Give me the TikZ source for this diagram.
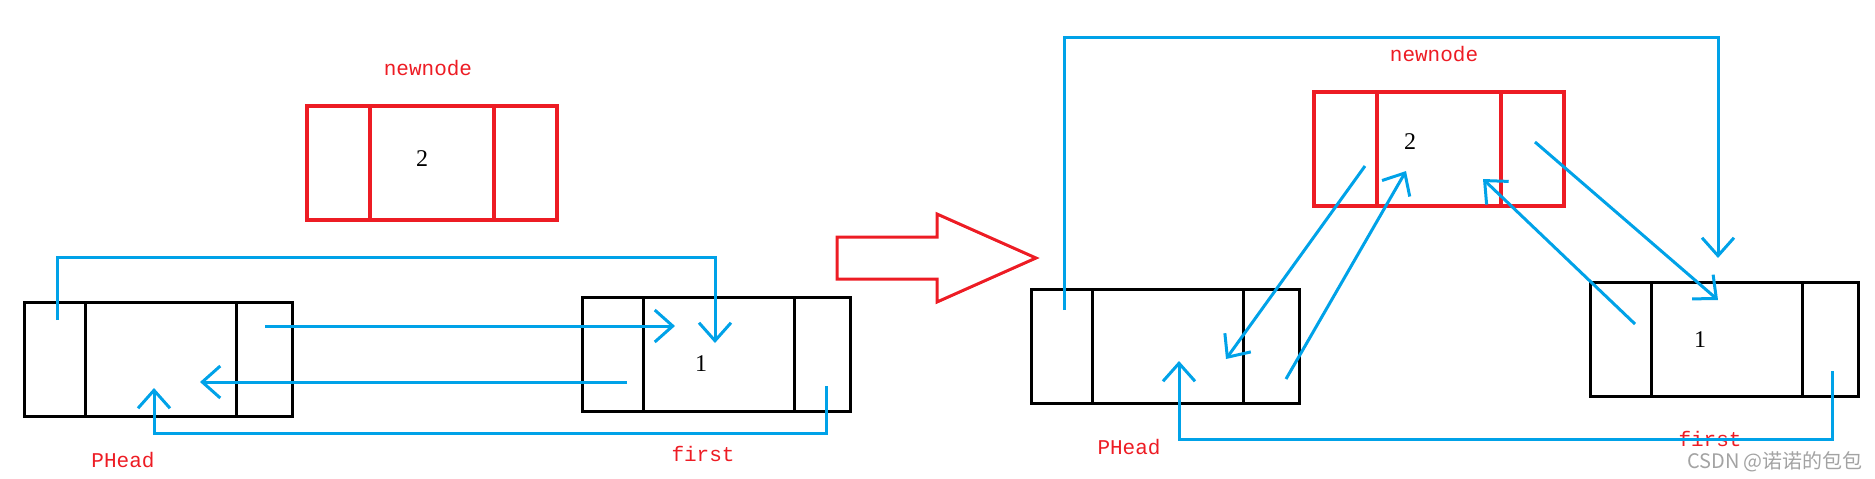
\documentclass[tikz,border=0pt]{standalone}
\usepackage{fontspec}
\setmainfont{Liberation Serif}
\newfontfamily\tagfont{Liberation Mono}
\newfontfamily\cjkfont{Noto Sans CJK SC}
\usetikzlibrary{arrows.meta,calc}
\definecolor{ink}{HTML}{000000}
\definecolor{ptrblue}{HTML}{00A2E8}
\definecolor{newred}{HTML}{ED1C24}
\definecolor{wmgray}{HTML}{A3A3A3}
\tikzset{
  cell/.style={draw=ink,line width=1.5pt,inner sep=0pt,outer sep=0pt,anchor=north west,minimum height=57pt},
  prior/.style={cell,minimum width=30.5pt},
  data/.style={cell,minimum width=75.5pt},
  next/.style={cell,minimum width=28pt},
  newside/.style={cell,draw=newred,line width=2pt,minimum width=31.5pt},
  newdata/.style={cell,draw=newred,line width=2pt,minimum width=62pt},
  ptr/.style={draw=ptrblue,line width=1.5pt,-{Straight Barb[length=9pt,width=16pt]}},
  bigarrow/.style={draw=newred,line width=1.5pt,line join=miter},
  tag/.style={text=newred,font=\tagfont\fontsize{10.5}{12}\selectfont,inner sep=0pt},
  val/.style={font=\fontsize{12}{14}\selectfont,inner sep=0pt}
}
\begin{document}
\begin{tikzpicture}[x=0.5pt,y=-0.5pt]
  \useasboundingbox (0,0) rectangle (1875,478);

  % before: newnode, PHead and first
  \node[tag] (t1) at (428,68) {newnode};
  \node[newside] (nL) at (307,106) {};
  \node[newdata] (nM) at (nL.north east) {};
  \node[newside] (nR) at (nM.north east) {};
  \node[val] (v2) at (422,159) {2};

  \node[prior] (hL) at (24,302) {};
  \node[data] (hM) at (hL.north east) {};
  \node[next] (hR) at (hM.north east) {};
  \node[tag] (t2) at (123,460) {PHead};

  \node[prior] (aL) at (582,297) {};
  \node[data] (aM) at (aL.north east) {};
  \node[next] (aR) at (aM.north east) {};
  \node[val] (v1) at (701,364) {1};
  \node[tag] (t3) at (703,454) {first};

  \draw[ptr] ($(hL.north)+(2.5,18)$) -- ++(0,-63) -| ($(aM.north)+(-3.5,46)$);
  \draw[ptr] ($(hR.center)+(1,-33)$) -- ($(aM.west)+(32,-28)$);
  \draw[ptr] ($(aL.center)+(14.5,28)$) -- ($(hM.center)+(39.5,23)$);
  \draw[ptr] ($(aR.center)+(4,32)$) -- ++(0,47) -| ($(hM.south)+(-6.5,-28)$);

  % big arrow
  \draw[bigarrow] (837,237) -- (937,237) -- (937,214) -- (1036,258) -- (937,302) -- (937,279) -- (837,279) -- cycle;

  % after: newnode inserted before first
  \node[tag] (t4) at (1434,54) {newnode};
  \node[newside] (n2L) at (1314,92) {};
  \node[newdata] (n2M) at (n2L.north east) {};
  \node[newside] (n2R) at (n2M.north east) {};
  \node[val] (v2b) at (1410,142) {2};

  \node[prior] (h2L) at (1031,289) {};
  \node[data] (h2M) at (h2L.north east) {};
  \node[next] (h2R) at (h2M.north east) {};
  \node[tag] (t5) at (1129,447) {PHead};

  \node[prior] (b2L) at (1590,282) {};
  \node[data] (b2M) at (b2L.north east) {};
  \node[next] (b2R) at (b2M.north east) {};
  \node[val] (v1b) at (1700,340) {1};
  \node[tag] (t6) at (1710,439) {first};

  \draw[ptr] ($(h2L.north)+(2.5,21)$) -- ++(0,-273) -| ($(b2M.north)+(-8.5,-24)$);
  \draw[ptr] ($(n2L.center)+(19.5,17)$) -- ($(h2M.east)+(-17,13)$);
  \draw[ptr] ($(h2R.center)+(15,33)$) -- ($(n2M.center)+(-33,22)$);
  \draw[ptr] ($(b2L.center)+(14.5,-15)$) -- ($(n2M.center)+(44,30)$);
  \draw[ptr] ($(n2R.center)+(2.5,-7)$) -- ($(b2M.north)+(-8.5,18)$);
  \draw[ptr] ($(b2R.center)+(2,32)$) -- ++(0,68) -| ($(h2M.center)+(11.5,15)$);

  \node[text=wmgray,font=\cjkfont\fontsize{10}{12}\selectfont,inner sep=0pt] (wm) at (1775,462) {CSDN @诺诺的包包};
\end{tikzpicture}
\end{document}
